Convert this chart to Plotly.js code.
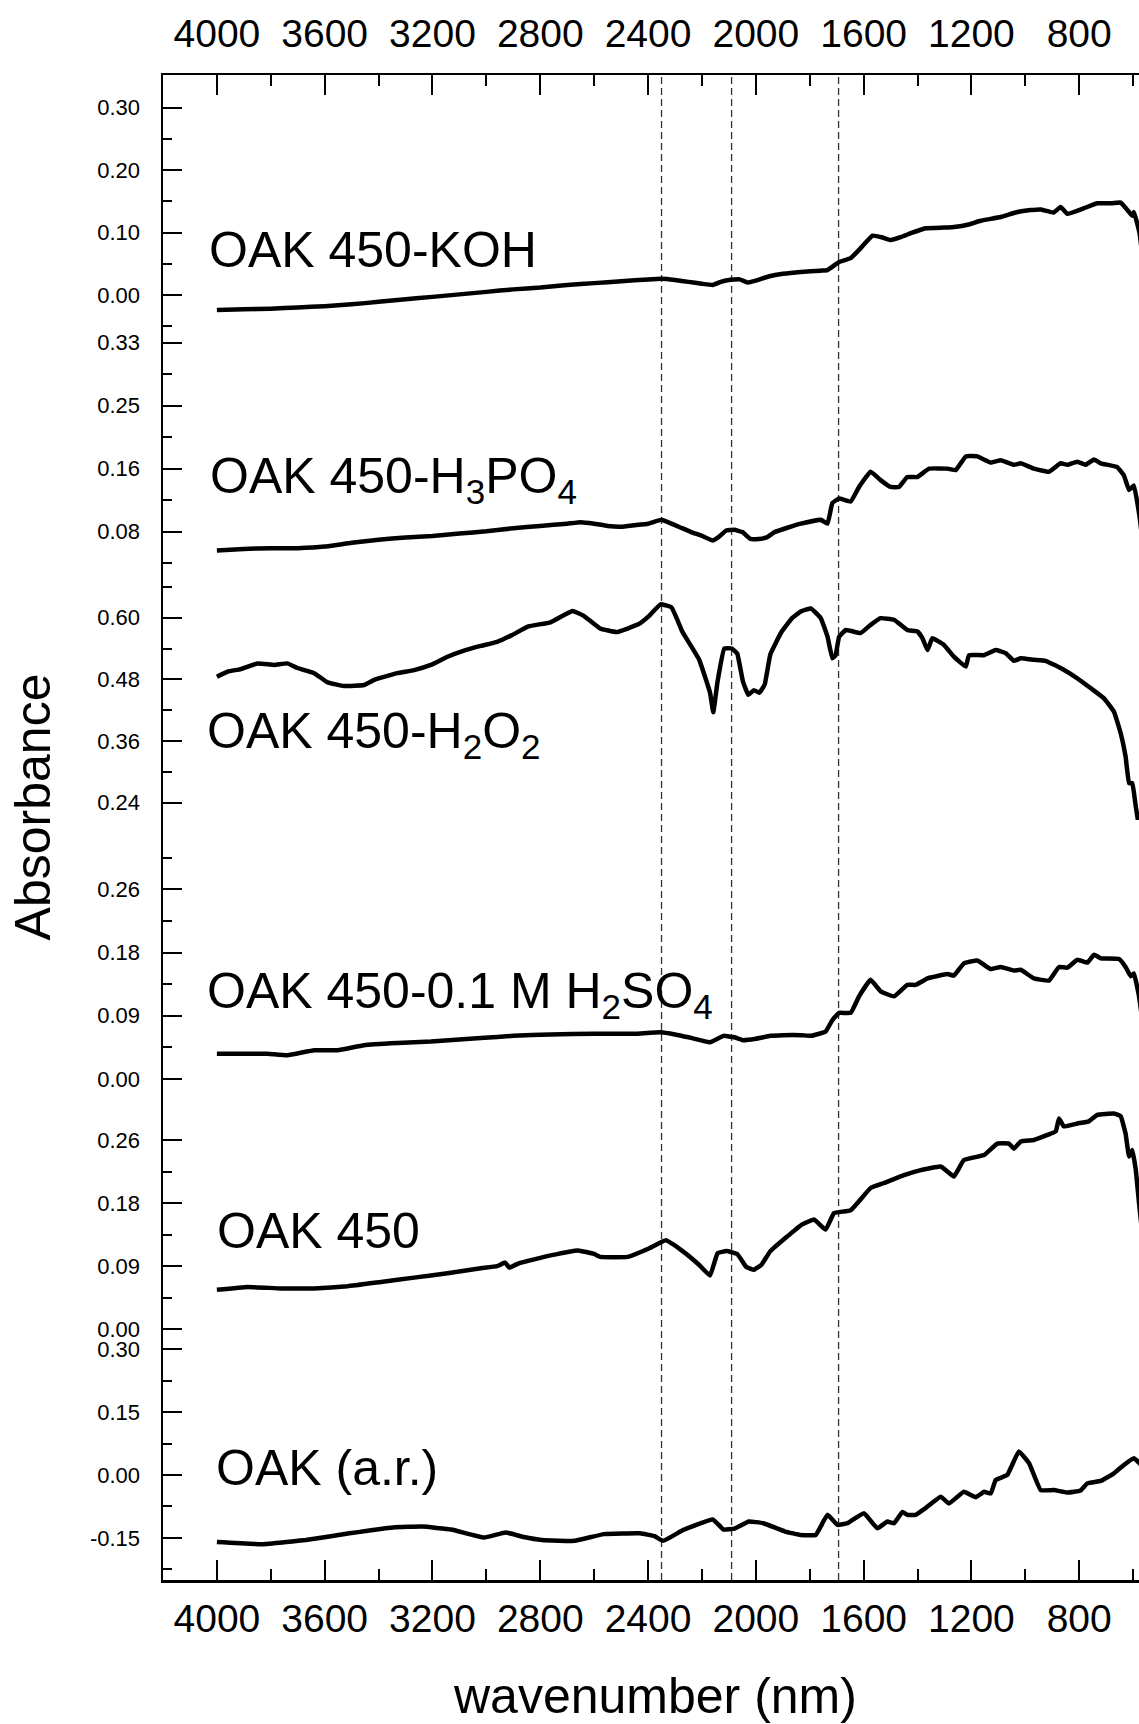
<!DOCTYPE html>
<html>
<head>
<meta charset="utf-8">
<script src="https://cdn.plot.ly/plotly-3.0.1.min.js"></script>
<style>
html, body { margin: 0; padding: 0; overflow: hidden; background: #fff; }
#chart { width: 1240px; height: 1724px; }
</style>
</head>
<body>
<div id="chart"></div>
<script>
// ---- data (wavenumber, absorbance) ----
const seriesNames = ["OAK 450-KOH", "OAK 450-H<sub>3</sub>PO<sub>4</sub>", "OAK 450-H<sub>2</sub>O<sub>2</sub>",
  "OAK 450-0.1 M H<sub>2</sub>SO<sub>4</sub>", "OAK 450", "OAK (a.r.)"];

const koh = [[4000,-0.024],[3900,-0.023],[3800,-0.022],[3700,-0.020],[3600,-0.018],[3500,-0.015],[3400,-0.011],
  [3300,-0.007],[3200,-0.003],[3100,0.001],[3000,0.005],[2900,0.009],[2800,0.012],[2700,0.016],[2600,0.019],
  [2500,0.022],[2400,0.025],[2350,0.026],[2300,0.024],[2250,0.021],[2200,0.018],[2160,0.016],[2130,0.021],
  [2100,0.024],[2060,0.025],[2030,0.020],[2000,0.023],[1950,0.030],[1900,0.034],[1833,0.037],[1760,0.039],
  [1734,0.040],[1691,0.053],[1648,0.059],[1611,0.075],[1567,0.095],[1530,0.092],[1500,0.088],[1460,0.093],
  [1425,0.099],[1370,0.107],[1300,0.108],[1265,0.109],[1210,0.113],[1166,0.119],[1091,0.125],[1029,0.133],
  [980,0.136],[943,0.137],[895,0.132],[869,0.141],[844,0.130],[782,0.139],[733,0.147],[680,0.147],[646,0.148],
  [621,0.136],[603,0.127],[597,0.133],[576,0.099],[565,0.060]];

const h3po4 = [[4000,0.058],[3900,0.060],[3800,0.061],[3700,0.061],[3600,0.063],[3500,0.068],[3400,0.072],
  [3300,0.075],[3200,0.077],[3100,0.080],[3000,0.083],[2900,0.087],[2800,0.090],[2700,0.093],[2650,0.095],
  [2600,0.093],[2550,0.090],[2500,0.089],[2450,0.091],[2400,0.093],[2350,0.098],[2320,0.094],[2280,0.088],
  [2240,0.082],[2200,0.077],[2160,0.071],[2140,0.075],[2110,0.084],[2080,0.085],[2050,0.082],[2020,0.073],
  [1990,0.073],[1960,0.075],[1930,0.082],[1880,0.088],[1833,0.093],[1759,0.098],[1734,0.093],[1716,0.120],
  [1691,0.126],[1648,0.122],[1617,0.141],[1574,0.161],[1537,0.150],[1500,0.141],[1469,0.141],[1438,0.154],
  [1401,0.154],[1357,0.165],[1289,0.165],[1258,0.163],[1221,0.181],[1178,0.181],[1129,0.173],[1091,0.176],
  [1042,0.170],[1017,0.172],[968,0.165],[912,0.161],[869,0.172],[844,0.170],[807,0.174],[776,0.170],
  [745,0.177],[720,0.172],[659,0.167],[634,0.156],[615,0.137],[597,0.143],[576,0.102],[565,0.070]];

const h2o2 = [[4000,0.485],[3960,0.495],[3911,0.500],[3849,0.511],[3787,0.508],[3738,0.511],[3701,0.502],
  [3639,0.492],[3589,0.474],[3528,0.467],[3454,0.469],[3416,0.479],[3330,0.492],[3268,0.498],[3206,0.508],
  [3144,0.524],[3083,0.536],[3021,0.545],[2960,0.553],[2905,0.566],[2844,0.583],[2762,0.591],[2681,0.613],
  [2640,0.604],[2578,0.579],[2517,0.572],[2436,0.587],[2395,0.604],[2354,0.626],[2313,0.620],[2272,0.572],
  [2211,0.519],[2170,0.454],[2158,0.416],[2142,0.476],[2117,0.540],[2089,0.540],[2069,0.530],[2048,0.476],
  [2028,0.450],[2007,0.459],[1987,0.454],[1967,0.470],[1946,0.529],[1905,0.572],[1864,0.600],[1833,0.612],
  [1796,0.618],[1759,0.599],[1734,0.563],[1716,0.521],[1704,0.527],[1691,0.563],[1666,0.576],[1611,0.570],
  [1574,0.586],[1537,0.599],[1487,0.596],[1438,0.576],[1400,0.573],[1382,0.560],[1363,0.537],[1345,0.560],
  [1302,0.547],[1265,0.524],[1221,0.505],[1209,0.527],[1153,0.527],[1110,0.537],[1073,0.531],[1042,0.516],
  [1017,0.521],[968,0.518],[925,0.516],[869,0.502],[807,0.482],[758,0.463],[708,0.443],[671,0.417],
  [646,0.375],[628,0.330],[615,0.278],[603,0.278],[590,0.232],[578,0.193],[565,0.150]];

const h2so4 = [[4000,0.035],[3911,0.035],[3812,0.035],[3738,0.033],[3639,0.040],[3552,0.040],[3454,0.047],
  [3330,0.050],[3206,0.052],[3021,0.057],[2900,0.060],[2762,0.062],[2600,0.063],[2450,0.063],[2354,0.065],
  [2300,0.062],[2250,0.058],[2170,0.051],[2120,0.060],[2080,0.058],[2048,0.054],[2000,0.056],[1946,0.060],
  [1900,0.061],[1833,0.061],[1796,0.060],[1741,0.066],[1716,0.082],[1691,0.092],[1648,0.092],[1617,0.115],
  [1574,0.138],[1537,0.122],[1487,0.115],[1438,0.131],[1407,0.131],[1363,0.140],[1289,0.146],[1265,0.144],
  [1228,0.161],[1178,0.165],[1129,0.153],[1091,0.156],[1042,0.151],[1017,0.152],[968,0.140],[912,0.137],
  [875,0.156],[844,0.155],[807,0.166],[770,0.162],[745,0.173],[720,0.168],[652,0.167],[628,0.156],
  [609,0.143],[597,0.147],[578,0.115],[565,0.080]];

const oak450 = [[4000,0.055],[3886,0.059],[3762,0.057],[3639,0.057],[3515,0.060],[3391,0.066],[3268,0.072],
  [3144,0.078],[3021,0.085],[2960,0.088],[2930,0.093],[2915,0.086],[2880,0.092],[2762,0.103],[2660,0.110],
  [2600,0.105],[2578,0.101],[2476,0.101],[2395,0.113],[2334,0.124],[2272,0.109],[2211,0.090],[2170,0.075],
  [2142,0.106],[2109,0.109],[2069,0.105],[2036,0.087],[2007,0.083],[1979,0.090],[1946,0.109],[1885,0.129],
  [1833,0.145],[1784,0.153],[1741,0.139],[1710,0.162],[1648,0.166],[1574,0.197],[1524,0.204],[1450,0.215],
  [1388,0.222],[1314,0.227],[1289,0.220],[1265,0.213],[1228,0.236],[1153,0.243],[1104,0.259],[1061,0.259],
  [1042,0.252],[1017,0.262],[968,0.264],[918,0.271],[887,0.276],[875,0.294],[857,0.283],[807,0.287],
  [764,0.290],[733,0.299],[671,0.301],[646,0.297],[628,0.273],[615,0.241],[603,0.250],[590,0.222],
  [578,0.176],[565,0.130]];

const oakAR = [[4000,-0.160],[3831,-0.165],[3670,-0.155],[3508,-0.139],[3346,-0.125],[3238,-0.123],[3130,-0.130],
  [3009,-0.149],[2928,-0.137],[2861,-0.148],[2793,-0.155],[2672,-0.157],[2564,-0.141],[2430,-0.139],
  [2376,-0.146],[2344,-0.157],[2269,-0.131],[2160,-0.106],[2120,-0.130],[2079,-0.128],[2026,-0.111],
  [1972,-0.115],[1891,-0.135],[1833,-0.143],[1778,-0.143],[1734,-0.095],[1697,-0.119],[1660,-0.115],
  [1599,-0.091],[1549,-0.127],[1512,-0.111],[1487,-0.115],[1456,-0.088],[1438,-0.095],[1407,-0.095],
  [1370,-0.079],[1314,-0.052],[1283,-0.068],[1228,-0.040],[1184,-0.053],[1153,-0.040],[1128,-0.044],
  [1110,-0.012],[1067,0.000],[1024,0.056],[986,0.028],[943,-0.036],[894,-0.036],[844,-0.042],[795,-0.037],
  [770,-0.020],[720,-0.014],[671,0.004],[634,0.024],[597,0.040],[576,0.028],[565,0.020]];

// marked band positions (cm-1) for dashed guide lines
const guideLines = [2350, 2090, 1693];

// tick labels
const xTickVals = [4000, 3600, 3200, 2800, 2400, 2000, 1600, 1200, 800];
const xMinorVals = [3800, 3400, 3000, 2600, 2200, 1800, 1400, 1000, 600];
const yTicks = [
  {vals: [0, 0.1, 0.2, 0.3], text: ["0.00", "0.10", "0.20", "0.30"], minor: [-0.05, 0.05, 0.15, 0.25]},
  {vals: [0.0825, 0.165, 0.2475, 0.33], text: ["0.08", "0.16", "0.25", "0.33"], minor: [0.04125, 0.12375, 0.20625, 0.28875]},
  {vals: [0.24, 0.36, 0.48, 0.60], text: ["0.24", "0.36", "0.48", "0.60"], minor: [0.30, 0.42, 0.54, 0.66]},
  {vals: [0, 0.088, 0.176, 0.264], text: ["0.00", "0.09", "0.18", "0.26"], minor: [0.044, 0.132, 0.22, 0.308]},
  {vals: [0, 0.088, 0.176, 0.264], text: ["0.00", "0.09", "0.18", "0.26"], minor: [0.044, 0.132, 0.22]},
  {vals: [-0.15, 0, 0.15, 0.30], text: ["-0.15", "0.00", "0.15", "0.30"], minor: [-0.225, -0.075, 0.075, 0.225]}
];

// ---- layout config ----
const FONT = "Liberation Sans, Arial, Helvetica, sans-serif";
const panelDomains = [[0.8279, 1], [0.6678, 0.8279], [0.5050, 0.6678], [0.3223, 0.5050], [0.1595, 0.3223], [0, 0.1595]];
const panelRanges = [[-0.0625, 0.3524], [0.0259, 0.3411], [0.2063, 0.6831], [-0.0223, 0.3607], [-0.0149, 0.3268], [-0.2504, 0.322]];
const labelPos = [[0.043, 0.8837], [0.044, 0.7314], [0.041, 0.5615], [0.041, 0.3889], [0.051, 0.2321], [0.050, 0.0744]];

const allSeries = [koh, h3po4, h2o2, h2so4, oak450, oakAR];
const traces = allSeries.map((s, i) => ({
  type: "scatter", mode: "lines",
  x: s.map(p => p[0]), y: s.map(p => p[1]),
  xaxis: i === 0 ? "x2" : "x",
  yaxis: i === 0 ? "y" : "y" + (i + 1),
  line: {color: "#000", width: 4.5, shape: "spline", smoothing: 0.3},
  hoverinfo: "skip", showlegend: false
}));

const layout = {
  width: 1240, height: 1724,
  margin: {l: 163, r: 53, t: 75, b: 144},
  paper_bgcolor: "#fff", plot_bgcolor: "#fff",
  font: {family: FONT, color: "#000"},
  showlegend: false,
  xaxis: {
    range: [4200, 400], anchor: "y6",
    tickmode: "array", tickvals: xTickVals, ticktext: xTickVals.map(String),
    ticks: "inside", ticklen: 20, tickwidth: 2, tickcolor: "#000",
    minor: {tickmode: "array", tickvals: xMinorVals, ticks: "inside", ticklen: 11, tickwidth: 2, tickcolor: "#000"},
    showline: true, linewidth: 2.5, linecolor: "#000",
    showgrid: false, zeroline: false,
    tickfont: {size: 39, family: FONT}, ticklabelstandoff: 3
  },
  xaxis2: {
    range: [4200, 400], overlaying: "x", side: "top", anchor: "y", matches: "x",
    tickmode: "array", tickvals: xTickVals, ticktext: xTickVals.map(String),
    ticks: "inside", ticklen: 20, tickwidth: 2, tickcolor: "#000",
    minor: {tickmode: "array", tickvals: xMinorVals, ticks: "inside", ticklen: 11, tickwidth: 2, tickcolor: "#000"},
    showline: true, linewidth: 2.5, linecolor: "#000",
    showgrid: false, zeroline: false,
    tickfont: {size: 39, family: FONT}, ticklabelstandoff: 10
  },
  shapes: guideLines.map(w => ({
    type: "line", xref: "x", yref: "paper", x0: w, x1: w, y0: 0, y1: 1,
    line: {color: "#333", width: 1.3, dash: "7px,4px"}, layer: "below"
  })),
  annotations: [
    ...seriesNames.map((t, i) => ({
      text: t, xref: "paper", yref: "paper", x: labelPos[i][0], y: labelPos[i][1],
      xanchor: "left", yanchor: "middle", showarrow: false,
      font: {size: 50, family: FONT, color: "#000"}
    })),
    {text: "Absorbance", xref: "paper", yref: "paper", x: -0.127, y: 0.514, textangle: -90,
      xanchor: "center", yanchor: "middle", showarrow: false, font: {size: 50, family: FONT, color: "#000"}},
    {text: "wavenumber (nm)", xref: "paper", yref: "paper", x: 0.4805, y: -0.0773,
      xanchor: "center", yanchor: "middle", showarrow: false, font: {size: 50, family: FONT, color: "#000"}}
  ]
};

yTicks.forEach((t, i) => {
  const key = i === 0 ? "yaxis" : "yaxis" + (i + 1);
  layout[key] = {
    domain: panelDomains[i], range: panelRanges[i], anchor: "x",
    tickmode: "array", tickvals: t.vals, ticktext: t.text,
    ticks: "inside", ticklen: 19, tickwidth: 2, tickcolor: "#000",
    minor: {tickmode: "array", tickvals: t.minor, ticks: "inside", ticklen: 9, tickwidth: 2, tickcolor: "#000"},
    showline: true, linewidth: 2.5, linecolor: "#000",
    showgrid: false, zeroline: false,
    tickfont: {size: 22, family: FONT}, ticklabelstandoff: 16
  };
});

Plotly.newPlot("chart", traces, layout, {staticPlot: true, displayModeBar: false});
</script>
</body>
</html>
